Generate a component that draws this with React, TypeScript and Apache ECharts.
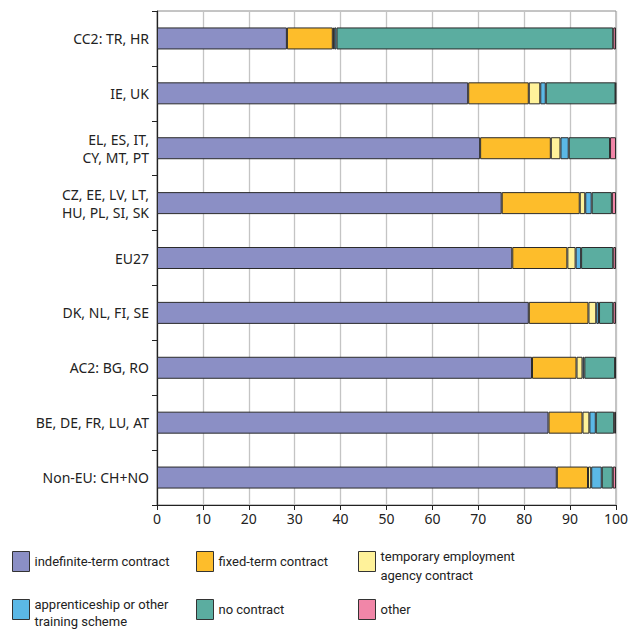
import React, { useEffect, useRef } from "react";
import * as echarts from "echarts";

const categories = [
  "CC2: TR, HR",
  "IE, UK",
  "EL, ES, IT,\nCY, MT, PT",
  "CZ, EE, LV, LT,\nHU, PL, SI, SK",
  "EU27",
  "DK, NL, FI, SE",
  "AC2: BG, RO",
  "BE, DE, FR, LU, AT",
  "Non-EU: CH+NO",
];

const indefinite = [28.3, 67.8, 70.4, 75.1, 77.4, 81.0, 81.7, 85.3, 87.1];
const fixedTerm = [10.0, 13.2, 15.4, 17.0, 12.0, 13.0, 9.7, 7.4, 6.8];
const temporaryAgency = [0.3, 2.5, 2.1, 1.2, 1.8, 1.7, 1.3, 1.5, 0.7];
const apprenticeship = [0.5, 1.2, 1.8, 1.4, 1.2, 0.6, 0.4, 1.4, 2.3];
const noContract = [60.3, 15.2, 9.0, 4.4, 7.0, 3.1, 6.7, 4.0, 2.4];
const other = [0.6, 0.1, 1.3, 0.9, 0.6, 0.6, 0.2, 0.4, 0.7];

const seriesNames = [
  "indefinite-term contract",
  "fixed-term contract",
  "temporary employment agency contract",
  "apprenticeship or other training scheme",
  "no contract",
  "other",
];
const legendLabels = [
  "indefinite-term contract",
  "fixed-term contract",
  "temporary employment\nagency contract",
  "apprenticeship or other\ntraining scheme",
  "no contract",
  "other",
];
const seriesColors = ["#8b8fc5", "#fdbd2b", "#fff29a", "#5bb8e6", "#5bada0", "#f186a8"];
const seriesData = [indefinite, fixedTerm, temporaryAgency, apprenticeship, noContract, other];
const xTicks = [0, 10, 20, 30, 40, 50, 60, 70, 80, 90, 100];

const FONT = "Noto Sans";
const LEGEND_FONT = "Roboto";

export default function App() {
  const ref = useRef<HTMLDivElement>(null);
  useEffect(() => {
    if (!ref.current) return;
    const chart = echarts.init(ref.current, undefined, { renderer: "svg" });
    const colX = [12, 196, 358];
    const rowY = [551, 599];
    const legendGraphics: any[] = [];
    legendLabels.forEach((label, i) => {
      const x = colX[i % 3];
      const row = Math.floor(i / 3);
      const y = rowY[row];
      const multi = label.indexOf("\n") >= 0;
      const lh = row === 0 ? 19 : 17;
      legendGraphics.push({
        type: "rect",
        shape: { x: x + 0.5, y: y + 0.5, width: 17, height: 20 },
        style: { fill: seriesColors[i], stroke: "#333", lineWidth: 1 },
        silent: true,
      });
      legendGraphics.push({
        type: "text",
        x: x + 22.5,
        y: multi ? y + 5.5 - lh / 2 : y + 1,
        style: {
          text: label,
          fill: "#222",
          font: `13px ${LEGEND_FONT}`,
          fontFamily: LEGEND_FONT,
          fontSize: 13,
          lineHeight: multi ? lh : 19,
          verticalAlign: "top",
          align: "left",
        },
        silent: true,
      });
    });
    chart.setOption({
      animation: false,
      grid: {
        left: 157,
        right: 25,
        top: 11,
        bottom: 125,
        show: true,
        borderColor: "#8a8a8a",
        borderWidth: 1,
      },
      xAxis: {
        type: "value",
        min: xTicks[0],
        max: xTicks[xTicks.length - 1],
        interval: 10,
        axisLine: { show: true, lineStyle: { color: "#222", width: 1.2 } },
        axisTick: { show: true, length: 5, lineStyle: { color: "#222" } },
        axisLabel: { color: "#222", fontFamily: FONT, fontSize: 14, margin: 6 },
        splitLine: { show: true, lineStyle: { color: "#c4c4c4", width: 1.3 } },
      },
      yAxis: {
        type: "category",
        data: categories,
        inverse: true,
        axisLine: { show: true, lineStyle: { color: "#222", width: 1.2 } },
        axisTick: { show: true, length: 5, lineStyle: { color: "#222" } },
        axisLabel: {
          color: "#222",
          fontFamily: FONT,
          fontSize: 14,
          lineHeight: 18,
          margin: 8,
        },
        splitLine: { show: false },
      },
      graphic: legendGraphics,
      series: seriesNames.map((name, i) => ({
        name,
        type: "bar",
        stack: "total",
        barWidth: 22,
        data: seriesData[i],
        itemStyle: { color: seriesColors[i], borderColor: "#2b2b2b", borderWidth: 1 },
        emphasis: { disabled: true },
      })),
    });
    return () => chart.dispose();
  }, []);
  return <div ref={ref} style={{ width: 641, height: 630, position: "absolute", left: 0, top: 0 }} />;
}
